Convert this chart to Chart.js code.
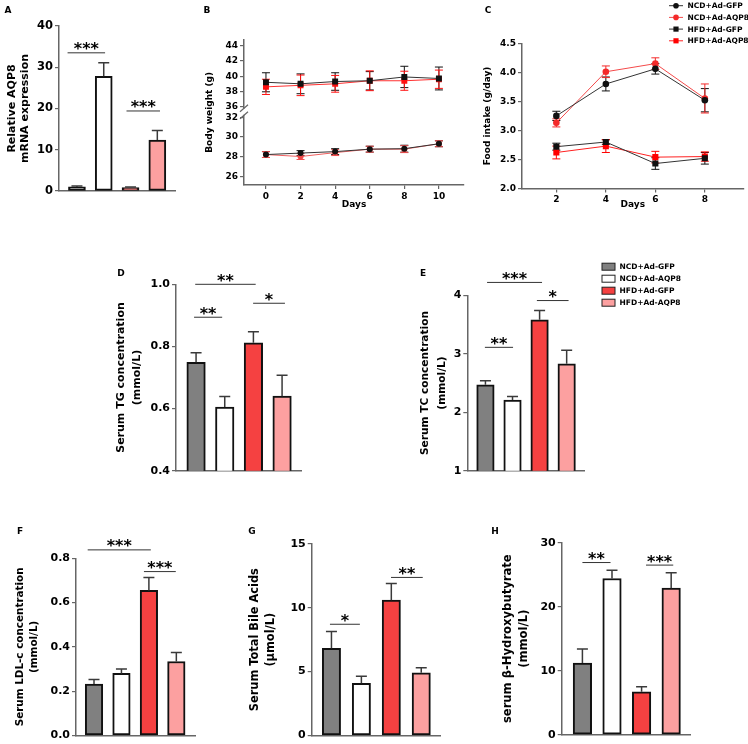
<!DOCTYPE html>
<html>
<head>
<meta charset="utf-8">
<script src="https://cdn.jsdelivr.net/npm/chart.js@4.4.0/dist/chart.umd.min.js"></script>
<style>
html, body { margin: 0; padding: 0; background: #fff; }
#wrap { position: relative; width: 748px; height: 744px; overflow: hidden; }
#wrap canvas { position: absolute; left: 0; top: 0; }
.lab { position: absolute; font: bold 9px 'DejaVu Sans'; transform: translate(-50%, -50%); }
</style>
</head>
<body>
<div id="wrap">
  <canvas id="cA" width="748" height="744"></canvas>
  <canvas id="cB" width="748" height="744"></canvas>
  <canvas id="cC" width="748" height="744"></canvas>
  <canvas id="cD" width="748" height="744"></canvas>
  <canvas id="cE" width="748" height="744"></canvas>
  <canvas id="cF" width="748" height="744"></canvas>
  <canvas id="cG" width="748" height="744"></canvas>
  <canvas id="cH" width="748" height="744"></canvas>
  <div class="lab" style="left:8px;top:10px">A</div>
  <div class="lab" style="left:207px;top:10px">B</div>
  <div class="lab" style="left:488px;top:10px">C</div>
  <div class="lab" style="left:121px;top:273px">D</div>
  <div class="lab" style="left:423px;top:273px">E</div>
  <div class="lab" style="left:20px;top:531px">F</div>
  <div class="lab" style="left:252px;top:531px">G</div>
  <div class="lab" style="left:495px;top:531px">H</div>
</div>
<script>
// groups + colours
const groups = ['NCD+Ad-GFP', 'NCD+Ad-AQP8', 'HFD+Ad-GFP', 'HFD+Ad-AQP8'];
const barColors = ['#808080', '#ffffff', '#f54141', '#fca0a0'];

// A - relative AQP8 mRNA
const aqp8Mean = [1.0, 27.8, 0.8, 12.35];
const aqp8Sem = [0.2, 3.3, 0.15, 2.3];
const aqp8Ticks = [0, 10, 20, 30, 40];
const aqp8Sig = [{ from: -0.35, to: 1.05, y: 33.5, label: '***' }, { from: 1.85, to: 3.1, y: 19.4, label: '***' }];

// B - body weight (g)
const bwDays = [0, 2, 4, 6, 8, 10];
const bwNcdGfp = [28.2, 28.35, 28.5, 28.75, 28.8, 29.3];
const bwNcdGfpSem = [0.3, 0.25, 0.3, 0.3, 0.35, 0.3];
const bwNcdAqp8 = [28.2, 28.0, 28.4, 28.75, 28.75, 29.3];
const bwNcdAqp8Sem = [0.3, 0.3, 0.3, 0.3, 0.35, 0.3];
const bwHfdGfp = [39.2, 39.0, 39.3, 39.4, 39.9, 39.7];
const bwHfdGfpSem = [1.25, 1.3, 1.15, 1.2, 1.4, 1.5];
const bwHfdAqp8 = [38.6, 38.8, 39.0, 39.4, 39.4, 39.6];
const bwHfdAqp8Sem = [1.0, 1.35, 1.1, 1.3, 1.25, 1.2];
const bwTicks = [26, 28, 30, 32, 36, 38, 40, 42, 44];
const bwDayTicks = [0, 2, 4, 6, 8, 10];
const bwLow = [25.1, 32.2];
const bwHigh = [35.8, 44.8];

// C - food intake (g/day)
const fiDays = [2, 4, 6, 8];
const fiNcdGfp = [3.25, 3.80, 4.06, 3.52];
const fiNcdGfpSem = [0.08, 0.12, 0.09, 0.2];
const fiNcdAqp8 = [3.13, 4.01, 4.15, 3.55];
const fiNcdAqp8Sem = [0.07, 0.1, 0.1, 0.25];
const fiHfdGfp = [2.72, 2.80, 2.43, 2.52];
const fiHfdGfpSem = [0.06, 0.04, 0.1, 0.1];
const fiHfdAqp8 = [2.62, 2.73, 2.54, 2.55];
const fiHfdAqp8Sem = [0.11, 0.11, 0.1, 0.08];
const fiTicks = [2.0, 2.5, 3.0, 3.5, 4.0, 4.5];

// D - serum TG
const tgMean = [0.749, 0.605, 0.812, 0.640];
const tgSem = [0.031, 0.034, 0.035, 0.067];
const tgTicks = [0.4, 0.6, 0.8, 1.0];
const tgSig = [{ from: -0.03, to: 2.08, y: 1.0, label: '**' }, { from: 1.99, to: 3.1, y: 0.939, label: '*' }, { from: -0.07, to: 0.91, y: 0.894, label: '**' }];

// E - serum TC
const tcMean = [2.47, 2.21, 3.58, 2.83];
const tcSem = [0.07, 0.06, 0.16, 0.23];
const tcTicks = [1, 2, 3, 4];
const tcSig = [{ from: 0.06, to: 2.09, y: 4.22, label: '***' }, { from: 1.9, to: 3.07, y: 3.91, label: '*' }, { from: -0.02, to: 1.02, y: 3.11, label: '**' }];

// F - LDL-c
const ldlMean = [0.232, 0.280, 0.655, 0.334];
const ldlSem = [0.02, 0.02, 0.058, 0.04];
const ldlTicks = [0.0, 0.2, 0.4, 0.6, 0.8];
const ldlSig = [{ from: -0.23, to: 2.07, y: 0.838, label: '***' }, { from: 1.82, to: 2.98, y: 0.74, label: '***' }];

// G - total bile acids
const tbaMean = [6.83, 4.08, 10.6, 4.91];
const tbaSem = [1.32, 0.55, 1.3, 0.4];
const tbaTicks = [0, 5, 10, 15];
const tbaSig = [{ from: -0.05, to: 0.95, y: 8.71, label: '*' }, { from: 1.99, to: 3.05, y: 12.38, label: '**' }];

// H - beta-hydroxybutyrate
const bhbMean = [11.2, 24.4, 6.7, 22.9];
const bhbSem = [2.2, 1.3, 0.8, 2.4];
const bhbTicks = [0, 10, 20, 30];
const bhbSig = [{ from: 0, to: 0.95, y: 26.9, label: '**' }, { from: 2.15, to: 3.07, y: 26.5, label: '***' }];

Chart.defaults.font.family = 'DejaVu Sans';
Chart.defaults.color = '#000';
const AX = '#666';

// y scale with a gap between two linear pieces (panel B)
class BrokenScale extends Chart.LinearScale {
  getPixelForValue(value) {
    const h = this.bottom - this.top;
    const lowH = h * 0.4794, gapH = h * 0.0488, highH = h - lowH - gapH;
    if (value <= bwLow[1]) return this.bottom - (value - bwLow[0]) / (bwLow[1] - bwLow[0]) * lowH;
    if (value >= bwHigh[0]) return this.bottom - lowH - gapH - (value - bwHigh[0]) / (bwHigh[1] - bwHigh[0]) * highH;
    return this.bottom - lowH - (value - bwLow[1]) / (bwHigh[0] - bwLow[1]) * gapH;
  }
}
BrokenScale.id = 'broken';
BrokenScale.defaults = Chart.LinearScale.defaults;
Chart.register(BrokenScale);

function layoutFor(g) {
  return { padding: { left: g.tl, top: g.T, right: 748 - g.R, bottom: 744 - g.B - g.xh } };
}

function yAxis(g, min, max, ticks, title, o) {
  return {
    type: o.type || 'linear', position: 'left', min: min, max: max,
    afterBuildTicks: ax => { ax.ticks = ticks.map(v => ({ value: v })); },
    afterFit: ax => { ax.width = g.L - g.tl; },
    ticks: { font: { size: o.tickSize, weight: 'bold' }, color: '#000', padding: 2, autoSkip: false,
      callback: o.fmt || (v => String(v)) },
    grid: { drawOnChartArea: false, drawTicks: true, tickLength: 4, color: AX, lineWidth: 1.2 },
    border: { display: true, color: AX, width: 1.5 },
    title: { display: true, text: title, color: '#000', padding: 0,
      font: { size: o.titleSize, weight: 'bold', lineHeight: o.lineHeight } }
  };
}

function barPanel(id, g, mean, sem, ticks, title, sig, o) {
  const errBars = {
    id: 'errSig',
    afterDatasetsDraw(chart) {
      const ctx = chart.ctx, ys = chart.scales.y, xs = chart.scales.x;
      ctx.save();
      chart.getDatasetMeta(0).data.forEach((bar, i) => {
        const top = ys.getPixelForValue(mean[i] + sem[i]);
        ctx.strokeStyle = '#3a3a3a';
        ctx.lineWidth = 1.5;
        ctx.beginPath();
        ctx.moveTo(bar.x, bar.y);
        ctx.lineTo(bar.x, top);
        ctx.moveTo(bar.x - 5.5, top);
        ctx.lineTo(bar.x + 5.5, top);
        ctx.stroke();
      });
      sig.forEach(s => {
        const x1 = xs.getPixelForValue(s.from), x2 = xs.getPixelForValue(s.to), y = ys.getPixelForValue(s.y);
        ctx.strokeStyle = '#333';
        ctx.lineWidth = 1;
        ctx.beginPath();
        ctx.moveTo(x1, y);
        ctx.lineTo(x2, y);
        ctx.stroke();
        ctx.fillStyle = '#000';
        ctx.font = 'bold 16px "DejaVu Sans"';
        ctx.textAlign = 'center';
        ctx.textBaseline = 'alphabetic';
        ctx.fillText(s.label, (x1 + x2) / 2, y + 1.5);
      });
      ctx.restore();
    }
  };
  const plugins = [errBars];
  if (o.legend) plugins.push(barLegend);
  return new Chart(document.getElementById(id), {
    type: 'bar',
    data: {
      datasets: [{
        data: mean.map((v, i) => ({ x: i, y: v })),
        backgroundColor: barColors,
        borderColor: '#111',
        borderWidth: 2,
        borderSkipped: false,
        barThickness: o.barW
      }]
    },
    options: {
      responsive: false, animation: false, events: [],
      layout: layoutFor(g),
      plugins: { legend: { display: false }, tooltip: { enabled: false } },
      scales: {
        x: { type: 'linear', min: o.xmin, max: o.xmax, offset: false,
          afterFit: ax => { ax.height = g.xh; },
          ticks: { display: false },
          grid: { drawOnChartArea: false, drawTicks: false, offset: false },
          border: { display: true, color: AX, width: 1.5 } },
        y: yAxis(g, ticks[0], ticks[ticks.length - 1], ticks, title, o)
      }
    },
    plugins: plugins
  });
}

// legend next to panel E
const barLegend = {
  id: 'barLegend',
  afterDraw(chart) {
    const ctx = chart.ctx;
    ctx.save();
    ctx.font = 'bold 7.5px "DejaVu Sans"';
    ctx.textBaseline = 'middle';
    ctx.textAlign = 'left';
    groups.forEach((name, k) => {
      const y = 266.7 + 12 * k;
      ctx.fillStyle = barColors[k];
      ctx.fillRect(602, y - 3.5, 13, 7);
      ctx.strokeStyle = '#222';
      ctx.lineWidth = 1;
      ctx.strokeRect(602, y - 3.5, 13, 7);
      ctx.fillStyle = '#000';
      ctx.fillText(name, 619.5, y + 0.5);
    });
    ctx.restore();
  }
};

function lineSet(label, xs, ys, sem, color, lineColor, style, r) {
  return {
    label: label,
    data: xs.map((d, i) => ({ x: d, y: ys[i] })),
    sem: sem,
    borderColor: lineColor, borderWidth: 1,
    pointStyle: style, pointRadius: r,
    pointBackgroundColor: color, pointBorderColor: color, pointBorderWidth: 0,
    errColor: color
  };
}

const lineErr = {
  id: 'lineErr',
  beforeDatasetsDraw(chart) {
    const ctx = chart.ctx, ys = chart.scales.y;
    ctx.save();
    chart.data.datasets.forEach((ds, k) => {
      const meta = chart.getDatasetMeta(k);
      ctx.strokeStyle = ds.errColor;
      ctx.lineWidth = 1;
      meta.data.forEach((pt, i) => {
        const v = ds.data[i].y, e = ds.sem[i];
        const t = ys.getPixelForValue(v + e), b = ys.getPixelForValue(v - e);
        ctx.beginPath();
        ctx.moveTo(pt.x, t); ctx.lineTo(pt.x, b);
        ctx.moveTo(pt.x - 4, t); ctx.lineTo(pt.x + 4, t);
        ctx.moveTo(pt.x - 4, b); ctx.lineTo(pt.x + 4, b);
        ctx.stroke();
      });
    });
    ctx.restore();
  }
};

function xDays(g, min, max, ticks) {
  return {
    type: 'linear', min: min, max: max,
    afterBuildTicks: ax => { ax.ticks = ticks.map(v => ({ value: v })); },
    afterFit: ax => { ax.height = g.xh; },
    ticks: { font: { size: 9, weight: 'bold' }, color: '#000', padding: 2, maxRotation: 0, autoSkip: false },
    grid: { drawOnChartArea: false, drawTicks: true, tickLength: 4, color: AX, lineWidth: 1.2 },
    border: { display: true, color: AX, width: 1.5 },
    title: { display: true, text: 'Days', color: '#000', padding: 0, font: { size: 9, weight: 'bold' } }
  };
}

// A
barPanel('cA', { tl: 5.5, L: 59, T: 26, R: 175, B: 191, xh: 4 }, aqp8Mean, aqp8Sem, aqp8Ticks,
  ['Relative AQP8', 'mRNA expression'], aqp8Sig,
  { tickSize: 11.5, titleSize: 11, lineHeight: '13px', barW: 17, xmin: -0.67, xmax: 3.66 });

// B
const gB = { tl: 204.6, L: 244, T: 39.6, R: 464, B: 185, xh: 25 };
const breakMarks = {
  id: 'breakMarks',
  afterDraw(chart) {
    const ctx = chart.ctx, ys = chart.scales.y, x = chart.chartArea.left;
    const yA = ys.getPixelForValue(bwLow[1]), yB = ys.getPixelForValue(bwHigh[0]);
    ctx.save();
    ctx.fillStyle = '#fff';
    ctx.fillRect(x - 2.5, yB + 0.5, 5, yA - yB - 1);
    ctx.strokeStyle = AX;
    ctx.lineWidth = 1.2;
    ctx.beginPath();
    [yA, yB].forEach(y => { ctx.moveTo(x - 4, y + 3.5); ctx.lineTo(x + 4, y - 3.5); });
    ctx.stroke();
    ctx.restore();
  }
};
new Chart(document.getElementById('cB'), {
  type: 'line',
  data: {
    datasets: [
      lineSet(groups[0], bwDays, bwNcdGfp, bwNcdGfpSem, '#111', '#333', 'circle', 3),
      lineSet(groups[1], bwDays, bwNcdAqp8, bwNcdAqp8Sem, '#ef4a4a', '#f06060', 'circle', 3),
      lineSet(groups[2], bwDays, bwHfdGfp, bwHfdGfpSem, '#111', '#333', 'rect', 4.2),
      lineSet(groups[3], bwDays, bwHfdAqp8, bwHfdAqp8Sem, '#ff1010', '#ff3030', 'rect', 4.2)
    ]
  },
  options: {
    responsive: false, animation: false, events: [],
    layout: layoutFor(gB),
    plugins: { legend: { display: false }, tooltip: { enabled: false } },
    scales: {
      x: xDays(gB, -1.27, 11.45, bwDayTicks),
      y: yAxis(gB, bwLow[0], bwHigh[1], bwTicks, 'Body weight (g)',
        { type: 'broken', tickSize: 9, titleSize: 9, lineHeight: '10.8px' })
    }
  },
  plugins: [lineErr, breakMarks]
});

// C
const gC = { tl: 482.6, L: 522, T: 43.3, R: 746, B: 188.5, xh: 21.5 };
const lineLegend = {
  id: 'lineLegend',
  afterDraw(chart) {
    const ctx = chart.ctx;
    ctx.save();
    ctx.font = 'bold 7.5px "DejaVu Sans"';
    ctx.textBaseline = 'middle';
    ctx.textAlign = 'left';
    chart.data.datasets.forEach((ds, k) => {
      const y = 5.7 + 11.7 * k;
      ctx.strokeStyle = ds.borderColor;
      ctx.lineWidth = 1;
      ctx.beginPath(); ctx.moveTo(669, y); ctx.lineTo(683, y); ctx.stroke();
      ctx.fillStyle = ds.pointBackgroundColor;
      ctx.strokeStyle = ds.pointBackgroundColor;
      Chart.helpers.drawPoint(ctx, { pointStyle: ds.pointStyle, radius: ds.pointRadius * 0.85, rotation: 0, borderWidth: 0 }, 676, y);
      ctx.fillStyle = '#000';
      ctx.fillText(ds.label, 687.5, y + 0.5);
    });
    ctx.restore();
  }
};
new Chart(document.getElementById('cC'), {
  type: 'line',
  data: {
    datasets: [
      lineSet(groups[0], fiDays, fiNcdGfp, fiNcdGfpSem, '#111', '#333', 'circle', 3.3),
      lineSet(groups[1], fiDays, fiNcdAqp8, fiNcdAqp8Sem, '#f42a2a', '#f44a4a', 'circle', 3.3),
      lineSet(groups[2], fiDays, fiHfdGfp, fiHfdGfpSem, '#111', '#333', 'rect', 4.3),
      lineSet(groups[3], fiDays, fiHfdAqp8, fiHfdAqp8Sem, '#ff0000', '#ff2020', 'rect', 4.3)
    ]
  },
  options: {
    responsive: false, animation: false, events: [],
    layout: layoutFor(gC),
    plugins: { legend: { display: false }, tooltip: { enabled: false } },
    scales: {
      x: xDays(gC, 0.612, 9.57, fiDays),
      y: yAxis(gC, 2.0, 4.5, fiTicks, 'Food intake (g/day)',
        { tickSize: 9, titleSize: 9, lineHeight: '10.8px', fmt: v => v.toFixed(1) })
    }
  },
  plugins: [lineErr, lineLegend]
});

// D
barPanel('cD', { tl: 113, L: 176, T: 284.3, R: 301, B: 470.7, xh: 4 }, tgMean, tgSem, tgTicks,
  ['Serum TG concentration', '(mmol/L)'], tgSig,
  { tickSize: 11, titleSize: 11, lineHeight: '16px', barW: 18.5, xmin: -0.70, xmax: 3.66, fmt: v => v.toFixed(1) });

// E
barPanel('cE', { tl: 416.25, L: 467.3, T: 295.3, R: 584, B: 470.7, xh: 4 }, tcMean, tcSem, tcTicks,
  ['Serum TC concentration', '(mmol/L)'], tcSig,
  { tickSize: 11, titleSize: 10.6, lineHeight: '17.5px', barW: 17.5, xmin: -0.67, xmax: 3.64, legend: true });

// F
barPanel('cF', { tl: 13.5, L: 76, T: 558.3, R: 195, B: 736.7, xh: 4 }, ldlMean, ldlSem, ldlTicks,
  ['Serum LDL-c concentration', '(mmol/L)'], ldlSig,
  { tickSize: 11, titleSize: 10.4, lineHeight: '14px', barW: 17.5, xmin: -0.656, xmax: 3.68, fmt: v => v.toFixed(1) });

// G
barPanel('cG', { tl: 247, L: 311.7, T: 544, R: 440.7, B: 737.3, xh: 4 }, tbaMean, tbaSem, tbaTicks,
  ['Serum Total Bile Acids', '(\u00b5mol/L)'], tbaSig,
  { tickSize: 11, titleSize: 11.4, lineHeight: '16px', barW: 18.3, xmin: -0.66, xmax: 3.65 });

// H
barPanel('cH', { tl: 500, L: 561.7, T: 542.7, R: 690.7, B: 734.7, xh: 4 }, bhbMean, bhbSem, bhbTicks,
  ['serum \u03b2-Hydroxybutyrate', '(mmol/L)'], bhbSig,
  { tickSize: 11, titleSize: 11.6, lineHeight: '16px', barW: 18.5, xmin: -0.70, xmax: 3.66 });
</script>
</body>
</html>
